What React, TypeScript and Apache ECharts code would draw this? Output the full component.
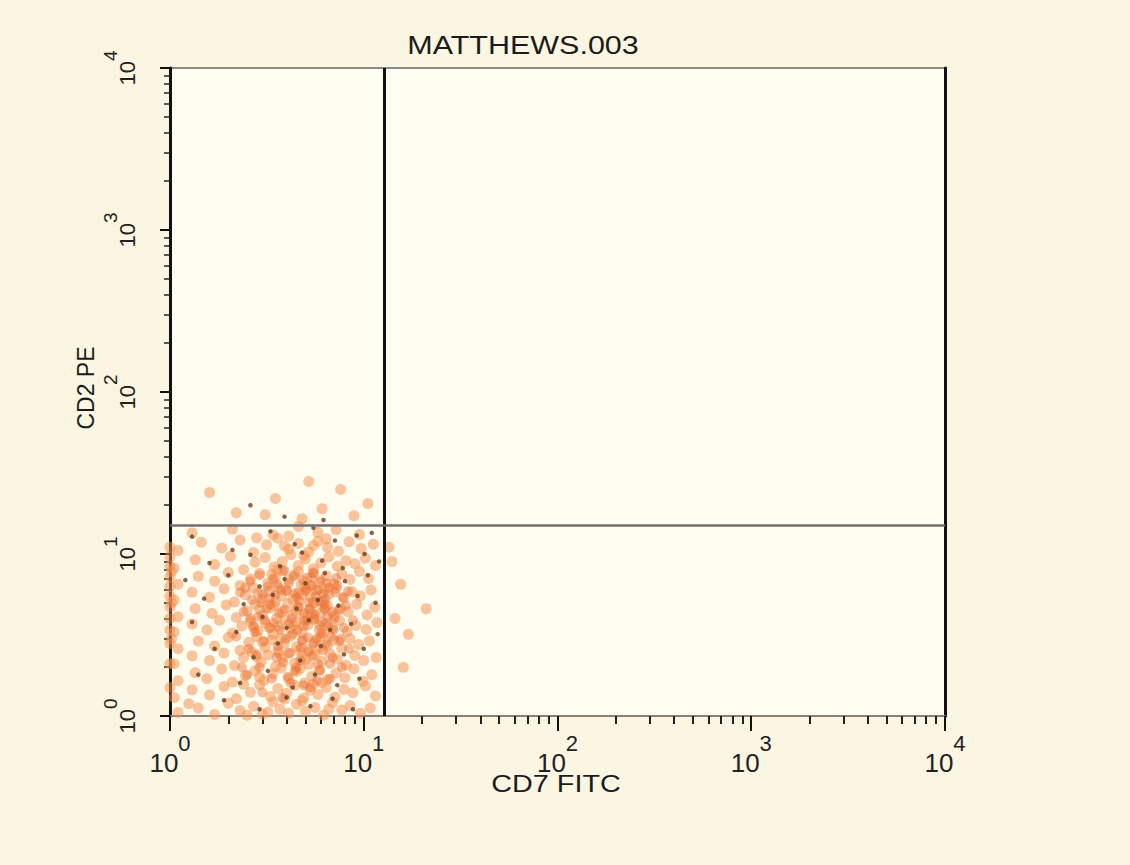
import React, { useEffect, useRef } from "react";
import * as echarts from "echarts";

const TITLE = "MATTHEWS.003";
const X_NAME = "CD7 FITC";
const Y_NAME = "CD2 PE";
const AXIS_MIN = 1;
const AXIS_MAX = 10000;
const MAJOR_TICKS = [1, 10, 100, 1000, 10000];
const MINOR_TICKS = [
  2, 3, 4, 5, 6, 7, 8, 9,
  20, 30, 40, 50, 60, 70, 80, 90,
  200, 300, 400, 500, 600, 700, 800, 900,
  2000, 3000, 4000, 5000, 6000, 7000, 8000, 9000,
];
const GATE_X = 12.7;
const GATE_Y = 15.0;

// CD7 FITC, CD2 PE
const EVENTS: [number, number][] = [
  [1.1, 1.05], [1.4, 1.12], [1.7, 1.02], [2.0, 1.2], [2.3, 1.08], [2.7, 1.15], [3.0, 1.03], [3.4, 1.22], [3.7, 1.1], [4.1, 1.04], [4.5, 1.18], [5.0, 1.07], [5.6, 1.13], [6.2, 1.01], [6.9, 1.21], [7.7, 1.09], [8.5, 1.16], [9.6, 1.04], [10.8, 1.12], [1.25, 1.19], [2.5, 1.01], [4.8, 1.24], [3.2, 1.06], [6.6, 1.1],
  [1.05, 1.3], [1.3, 1.45], [1.6, 1.35], [1.9, 1.52], [2.2, 1.28], [2.6, 1.4], [2.9, 1.56], [3.3, 1.32], [3.6, 1.48], [4.0, 1.38], [4.4, 1.55], [4.9, 1.29], [5.3, 1.44], [5.8, 1.36], [6.4, 1.5], [7.1, 1.31], [7.9, 1.46], [8.8, 1.39], [10.2, 1.53], [11.5, 1.33], [3.9, 1.27], [2.4, 1.57], [5.5, 1.57],
  [1.1, 1.65], [1.35, 1.85], [1.55, 1.7], [1.85, 1.95], [2.1, 1.62], [2.45, 1.78], [2.75, 1.9], [3.05, 1.66], [3.4, 1.82], [3.75, 1.98], [4.1, 1.7], [4.5, 1.88], [4.95, 1.6], [5.4, 1.76], [5.9, 1.92], [6.5, 1.68], [7.2, 1.84], [8.0, 1.72], [8.9, 1.96], [9.9, 1.64], [11.0, 1.8], [2.9, 1.74], [4.7, 1.97], [6.1, 1.61],
  [1.05, 2.1], [1.3, 2.35], [1.6, 2.2], [1.9, 2.45], [2.15, 2.05], [2.4, 2.3], [2.65, 2.48], [2.95, 2.15], [3.2, 2.38], [3.5, 2.02], [3.8, 2.27], [4.1, 2.44], [4.4, 2.12], [4.8, 2.33], [5.2, 2.08], [5.6, 2.4], [6.1, 2.18], [6.7, 2.42], [7.3, 2.25], [8.1, 2.06], [9.0, 2.36], [10.0, 2.2], [11.6, 2.3], [3.65, 2.46], [5.0, 2.24], [2.8, 2.32],
  [1.1, 2.6], [1.4, 2.9], [1.7, 2.7], [2.0, 3.05], [2.3, 2.55], [2.55, 2.85], [2.8, 3.1], [3.1, 2.65], [3.35, 2.95], [3.6, 2.52], [3.9, 2.8], [4.2, 3.12], [4.5, 2.68], [4.85, 2.98], [5.2, 2.58], [5.6, 2.88], [6.0, 3.08], [6.5, 2.72], [7.0, 2.94], [7.7, 2.62], [8.5, 3.0], [9.4, 2.76], [10.7, 2.9], [3.0, 2.86], [4.65, 2.54], [5.9, 2.66], [3.75, 3.02],
  [1.05, 3.3], [1.3, 3.7], [1.55, 3.4], [1.8, 3.9], [2.1, 3.25], [2.35, 3.6], [2.6, 3.85], [2.85, 3.35], [3.1, 3.75], [3.4, 3.2], [3.65, 3.55], [3.9, 3.92], [4.2, 3.45], [4.5, 3.8], [4.8, 3.28], [5.15, 3.65], [5.5, 3.95], [5.9, 3.38], [6.4, 3.72], [6.9, 3.5], [7.5, 3.88], [8.2, 3.32], [9.1, 3.62], [10.3, 3.42], [11.7, 3.78], [3.25, 3.5], [4.35, 3.62], [4.95, 3.86], [2.7, 3.52], [6.2, 3.22],
  [1.1, 4.1], [1.35, 4.6], [1.65, 4.3], [1.95, 4.85], [2.2, 4.05], [2.5, 4.45], [2.75, 4.9], [3.0, 4.2], [3.3, 4.65], [3.55, 4.0], [3.8, 4.4], [4.05, 4.95], [4.3, 4.25], [4.6, 4.7], [4.9, 4.12], [5.25, 4.55], [5.6, 4.98], [6.0, 4.35], [6.5, 4.8], [7.0, 4.15], [7.6, 4.6], [8.3, 4.4], [9.2, 4.9], [10.4, 4.2], [11.4, 4.7], [3.45, 4.82], [4.45, 4.5], [5.4, 4.3], [2.9, 4.55], [6.3, 4.62],
  [1.05, 5.2], [1.3, 5.8], [1.6, 5.4], [1.9, 6.1], [2.15, 5.05], [2.45, 5.6], [2.7, 6.2], [3.0, 5.3], [3.25, 5.9], [3.5, 5.1], [3.75, 5.5], [4.0, 6.0], [4.3, 5.25], [4.6, 5.75], [4.95, 6.25], [5.3, 5.45], [5.7, 5.95], [6.1, 5.15], [6.6, 5.65], [7.2, 6.15], [7.9, 5.35], [8.7, 5.85], [9.6, 5.5], [10.9, 6.0], [3.6, 6.22], [4.8, 5.58], [5.5, 5.02], [2.85, 5.7], [6.3, 6.05],
  [1.1, 6.5], [1.4, 7.3], [1.7, 6.8], [2.0, 7.7], [2.3, 6.4], [2.6, 7.0], [2.9, 7.6], [3.2, 6.6], [3.5, 7.2], [3.8, 7.85], [4.1, 6.9], [4.4, 7.45], [4.75, 6.45], [5.1, 7.1], [5.5, 7.7], [5.9, 6.7], [6.4, 7.35], [7.0, 6.55], [7.7, 7.5], [8.5, 6.95], [9.5, 7.8], [10.6, 7.05], [3.35, 7.5], [4.6, 7.8], [5.3, 6.35],
  [1.05, 8.2], [1.35, 9.2], [1.7, 8.6], [2.05, 9.7], [2.4, 8.0], [2.75, 8.9], [3.1, 9.5], [3.45, 8.3], [3.8, 9.0], [4.2, 9.9], [4.6, 8.5], [5.0, 9.3], [5.5, 8.1], [6.0, 8.8], [6.6, 9.6], [7.3, 8.4], [8.1, 9.1], [9.0, 8.7], [10.2, 9.4], [11.5, 8.5], [3.6, 8.0], [4.9, 9.8],
  [1.1, 10.5], [1.45, 11.8], [1.85, 10.9], [2.3, 12.2], [2.7, 10.2], [3.15, 11.4], [3.6, 12.5], [4.1, 10.7], [4.6, 11.6], [5.2, 10.3], [5.8, 12.0], [6.5, 11.0], [7.4, 10.4], [8.4, 11.9], [9.7, 10.8], [11.2, 11.5], [3.9, 11.2], [5.5, 11.3],
  [1.3, 13.5], [2.1, 14.2], [3.4, 13.1], [4.6, 14.8], [5.8, 13.6], [7.2, 14.1], [9.5, 13.2], [2.8, 12.6], [6.4, 12.4], [4.1, 12.9],
  [2.2, 18], [3.5, 22], [4.8, 16.5], [6.1, 19], [8.9, 17.2], [1.6, 24], [5.2, 28], [10.5, 20.5], [3.1, 17.5], [7.6, 25],
  [1.0, 1.5], [1.0, 2.1], [1.0, 2.8], [1.0, 3.4], [1.0, 4.0], [1.0, 4.7], [1.0, 5.5], [1.0, 6.3], [1.0, 7.2], [1.0, 8.4], [1.0, 9.6], [1.0, 11.0], [1.02, 3.0], [1.02, 5.0], [1.02, 7.8],
  [14, 9], [15.5, 6.5], [17, 3.2], [21, 4.6], [16, 2], [13.5, 11], [14.5, 4],
];

// dense core of the population
const CORE_EVENTS: [number, number][] = [
  [4.2, 1.6], [2.6, 6.8], [6.9, 2.3], [3.3, 4.9], [5.5, 7.6], [2.2, 3.1], [7.8, 5.4], [4.8, 2.9], [3.0, 1.4], [6.1, 3.8],
  [2.9, 7.4], [5.0, 5.9], [8.4, 2.6], [3.7, 3.4], [6.6, 6.2], [4.4, 1.9], [2.4, 4.4], [7.2, 7.1], [5.8, 2.1], [3.5, 5.6],
  [4.9, 3.6], [2.8, 2.4], [6.3, 4.9], [3.9, 7.9], [8.8, 3.9], [5.3, 1.5], [3.2, 6.3], [7.5, 2.9], [4.6, 4.7], [2.5, 1.8],
  [6.0, 6.9], [3.6, 2.7], [5.6, 4.2], [2.3, 5.8], [7.0, 3.4], [4.1, 6.6], [5.2, 2.5], [3.1, 3.9], [6.7, 1.7], [4.5, 5.4],
  [2.7, 3.6], [5.9, 5.1], [3.8, 1.3], [7.4, 4.5], [4.3, 3.2], [6.4, 2.8], [3.4, 7.0], [5.4, 6.4], [2.95, 5.0], [8.1, 4.8],
  [4.7, 2.2], [3.05, 2.9], [6.2, 5.7], [5.1, 3.9], [3.65, 4.3], [7.7, 2.0], [4.0, 5.9], [5.7, 3.0], [2.55, 2.6], [6.5, 4.1],
  [3.35, 1.7], [4.85, 6.9], [7.1, 5.8], [2.85, 4.1], [5.45, 2.35], [3.95, 3.0], [6.8, 3.1], [4.35, 7.3], [5.95, 1.9], [3.25, 5.3],
  [4.55, 3.4], [2.35, 2.0], [6.45, 6.6], [5.25, 4.6], [3.75, 6.0], [7.9, 3.5], [4.15, 2.45], [5.65, 5.5], [3.45, 3.75], [6.15, 2.55],
  [4.95, 4.3], [2.65, 5.2], [5.35, 7.2], [3.85, 2.15], [7.3, 6.4], [4.65, 5.1], [6.05, 3.25], [3.15, 4.6], [5.75, 1.65], [4.25, 4.0],
  [2.45, 6.2], [6.85, 4.4], [3.55, 2.3], [5.05, 6.1], [4.05, 1.75], [7.6, 3.0], [5.55, 4.0], [2.75, 3.3], [6.35, 5.3], [4.75, 2.65],
  [3.9, 4.55], [5.85, 6.0], [2.9, 2.0], [6.7, 2.1], [4.4, 5.7], [5.15, 3.05], [3.3, 3.5], [7.05, 4.0], [4.9, 1.55], [3.6, 6.5],
  [5.5, 2.8], [6.25, 4.6], [4.1, 3.7], [2.6, 4.0], [5.9, 3.65], [3.0, 5.7], [6.55, 3.6], [4.5, 2.0], [8.3, 5.9], [5.2, 5.0],
];

const DARK_EVENTS: [number, number][] = [
  [1.3, 12.8], [2.1, 10.6], [3.3, 13.8], [4.4, 11.5], [5.5, 14.5], [7.1, 12.1], [9.2, 13.0], [1.6, 8.8], [2.6, 9.9], [3.7, 8.4], [4.8, 10.2], [6.1, 9.1], [7.8, 8.2], [10.1, 10.0],
  [1.2, 6.9], [2.0, 7.4], [2.9, 6.3], [3.9, 7.0], [5.0, 6.6], [6.3, 7.6], [8.0, 6.8], [10.5, 7.4], [1.5, 5.3], [2.4, 4.9], [3.4, 5.6], [4.5, 4.6], [5.8, 5.2], [7.4, 4.8], [9.3, 5.5], [11.5, 5.0],
  [1.3, 3.8], [2.2, 3.3], [3.0, 4.1], [4.0, 3.5], [5.2, 3.9], [6.7, 3.4], [8.6, 3.7], [1.7, 2.6], [2.7, 2.3], [3.6, 2.8], [4.7, 2.2], [6.0, 2.7], [7.9, 2.4], [10.0, 2.6],
  [1.4, 1.8], [2.3, 1.6], [3.2, 1.9], [4.3, 1.5], [5.6, 1.8], [7.3, 1.55], [9.5, 1.7], [1.9, 1.25], [2.9, 1.1], [4.0, 1.3], [5.3, 1.15], [6.9, 1.28], [8.8, 1.1],
  [3.9, 17], [6.2, 16.2], [2.6, 20], [11.0, 13.5], [12.0, 9], [11.8, 3.2],
];

const FONT = '"Liberation Sans", Arial, sans-serif';

function powLabel(v: number) {
  return `{b|10}{s|${Math.round(Math.log10(v))}}`;
}

export default function App() {
  const ref = useRef<HTMLDivElement>(null);
  useEffect(() => {
    if (!ref.current) return;
    const chart = echarts.init(ref.current, undefined, { renderer: "svg" });
    const xRich = {
      b: { fontSize: 26, fontFamily: FONT, color: "#222", verticalAlign: "bottom" },
      s: { fontSize: 22, fontFamily: FONT, color: "#222", padding: [0, 0, 22, 0], verticalAlign: "top" },
    };
    const yRich = {
      b: { fontSize: 22, fontFamily: FONT, color: "#222", verticalAlign: "bottom" },
      s: { fontSize: 19, fontFamily: FONT, color: "#222", padding: [0, 0, 18, 0], verticalAlign: "top" },
    };
    const baseLog = { type: "log", logBase: 10, min: AXIS_MIN, max: AXIS_MAX, splitLine: { show: false } };
    chart.setOption({
      animation: false,
      backgroundColor: "#faf6e2",
      grid: {
        left: 170, right: 185, top: 68, bottom: 149,
        show: true, backgroundColor: "#fffdef", borderColor: "#8a8a8a", borderWidth: 2,
        containLabel: false, outerBoundsMode: "none",
      },
      xAxis: [
        {
          ...baseLog, position: "bottom",
          axisLine: { show: true, onZero: false, lineStyle: { color: "#8c7f78", width: 2 } },
          axisTick: { show: true, customValues: MAJOR_TICKS, length: 15, lineStyle: { color: "#111", width: 2 } },
          axisLabel: { customValues: MAJOR_TICKS, formatter: powLabel, rich: xRich, margin: 16 },
        },
        {
          ...baseLog, position: "bottom",
          axisLine: { show: false },
          axisTick: { show: true, customValues: MINOR_TICKS, length: 8, lineStyle: { color: "#222", width: 2 } },
          axisLabel: { show: false },
        },
      ],
      yAxis: [
        {
          ...baseLog, position: "left",
          axisLine: { show: true, onZero: false, lineStyle: { color: "#111", width: 3 } },
          axisTick: { show: true, customValues: MAJOR_TICKS, length: 10, lineStyle: { color: "#111", width: 2 } },
          axisLabel: { customValues: MAJOR_TICKS, formatter: powLabel, rich: yRich, rotate: 90, margin: 32 },
        },
        {
          ...baseLog, position: "left",
          axisLine: { show: false },
          axisTick: { show: true, customValues: MINOR_TICKS, length: 6, lineStyle: { color: "#222", width: 1.5 } },
          axisLabel: { show: false },
        },
        {
          ...baseLog, position: "right",
          axisLine: { show: true, onZero: false, lineStyle: { color: "#111", width: 3 } },
          axisTick: { show: false },
          axisLabel: { show: false },
        },
      ],
      graphic: [
        {
          type: "text", x: 523, y: 45, scaleX: 1.22,
          style: { text: TITLE, font: `25px ${FONT}`, fill: "#1c1c1c", align: "center", verticalAlign: "middle" },
        },
        {
          type: "text", x: 556, y: 784, scaleX: 1.2,
          style: { text: X_NAME, font: `24px ${FONT}`, fill: "#1c1c1c", align: "center", verticalAlign: "middle" },
        },
        {
          type: "text", x: 86, y: 388, rotation: Math.PI / 2,
          style: { text: Y_NAME, font: `23px ${FONT}`, fill: "#1c1c1c", align: "center", verticalAlign: "middle" },
        },
      ],
      series: [
        {
          type: "scatter", xAxisIndex: 0, yAxisIndex: 0, data: EVENTS,
          symbolSize: 11, itemStyle: { color: "#f3904f", opacity: 0.52 },
          silent: true,
          markLine: {
            silent: true, symbol: "none", label: { show: false },
            data: [
              { xAxis: GATE_X, lineStyle: { color: "#111", width: 3, type: "solid" } },
              { yAxis: GATE_Y, lineStyle: { color: "#707070", width: 2.5, type: "solid" } },
            ],
          },
        },
        {
          type: "scatter", xAxisIndex: 0, yAxisIndex: 0, data: CORE_EVENTS,
          symbolSize: 10, itemStyle: { color: "#ec6c30", opacity: 0.45 }, silent: true,
        },
        {
          type: "scatter", xAxisIndex: 0, yAxisIndex: 0, data: DARK_EVENTS,
          symbolSize: 4.5, itemStyle: { color: "#6b3d1e", opacity: 0.8 }, silent: true,
        },
      ],
    });
    return () => chart.dispose();
  }, []);
  return <div ref={ref} style={{ position: "absolute", left: 0, top: 0, width: 1130, height: 865 }} />;
}
